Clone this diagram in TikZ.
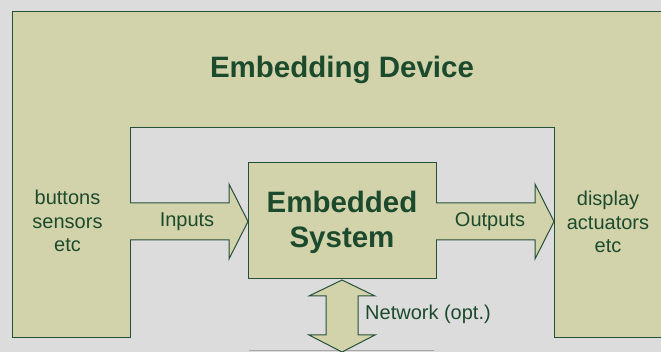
\documentclass[tikz,border=0pt]{standalone}
\usepackage{fontspec}
\setmainfont{Liberation Sans}
\definecolor{bgc}{HTML}{DCDCDC}
\definecolor{boxfill}{HTML}{D3D3AB}
\definecolor{boxline}{HTML}{24503A}
\definecolor{txt}{HTML}{1C4A2C}
\begin{document}
\begin{tikzpicture}[x=1pt,y=-1pt,
  shapestyle/.style={fill=boxfill,draw=boxline,line width=1pt,line join=miter},
  lbl/.style={text=txt,font=\fontsize{20}{23.5}\selectfont,align=center,inner sep=0pt},
  bold/.style={text=txt,font=\fontsize{29.5}{35}\selectfont\bfseries,align=center,inner sep=0pt}]
\fill[bgc] (0,0) rectangle (661,352);
\useasboundingbox (0,0) rectangle (661,352);
% embedding device (U shape)
\path[shapestyle] (12,12) -- (662,12) -- (662,338) -- (554,338) -- (554,128) -- (130,128) -- (130,338) -- (12,338) -- cycle;
% bottom line (partly hidden box)
\draw[gray!70,line width=1pt] (249,351) -- (434,351);
% embedded system
\node[shapestyle,minimum width=188pt,minimum height=116pt,inner sep=0pt] (sys) at (342,221) {};
\node[bold] (systxt) at (342,222) {Embedded\\System};
% input arrow
\path[shapestyle] (130,203) -- (229,203) -- (229,184) -- (248,221.5) -- (229,259) -- (229,240) -- (130,240);
% output arrow
\path[shapestyle] (436,203) -- (535,203) -- (535,184) -- (554,221.5) -- (535,259) -- (535,240) -- (436,240);
% network double arrow
\path[shapestyle] (342,280) -- (375,296) -- (358,296) -- (358,335) -- (375,335) -- (342,352) -- (309,335) -- (326,335) -- (326,296) -- (309,296) -- cycle;
% texts
\node[text=txt,font=\fontsize{29.5}{35}\selectfont\bfseries,inner sep=0pt] (title) at (342,70) {Embedding Device};
\node[lbl] (left) at (67.5,221) {buttons\\sensors\\etc};
\node[lbl] (right) at (608,222) {display\\actuators\\etc};
\node[lbl] (inp) at (187,222) {Inputs};
\node[lbl] (outp) at (490,222) {Outputs};
\node[lbl,anchor=west] (net) at (365,314) {Network (opt.)};
\end{tikzpicture}
\end{document}
